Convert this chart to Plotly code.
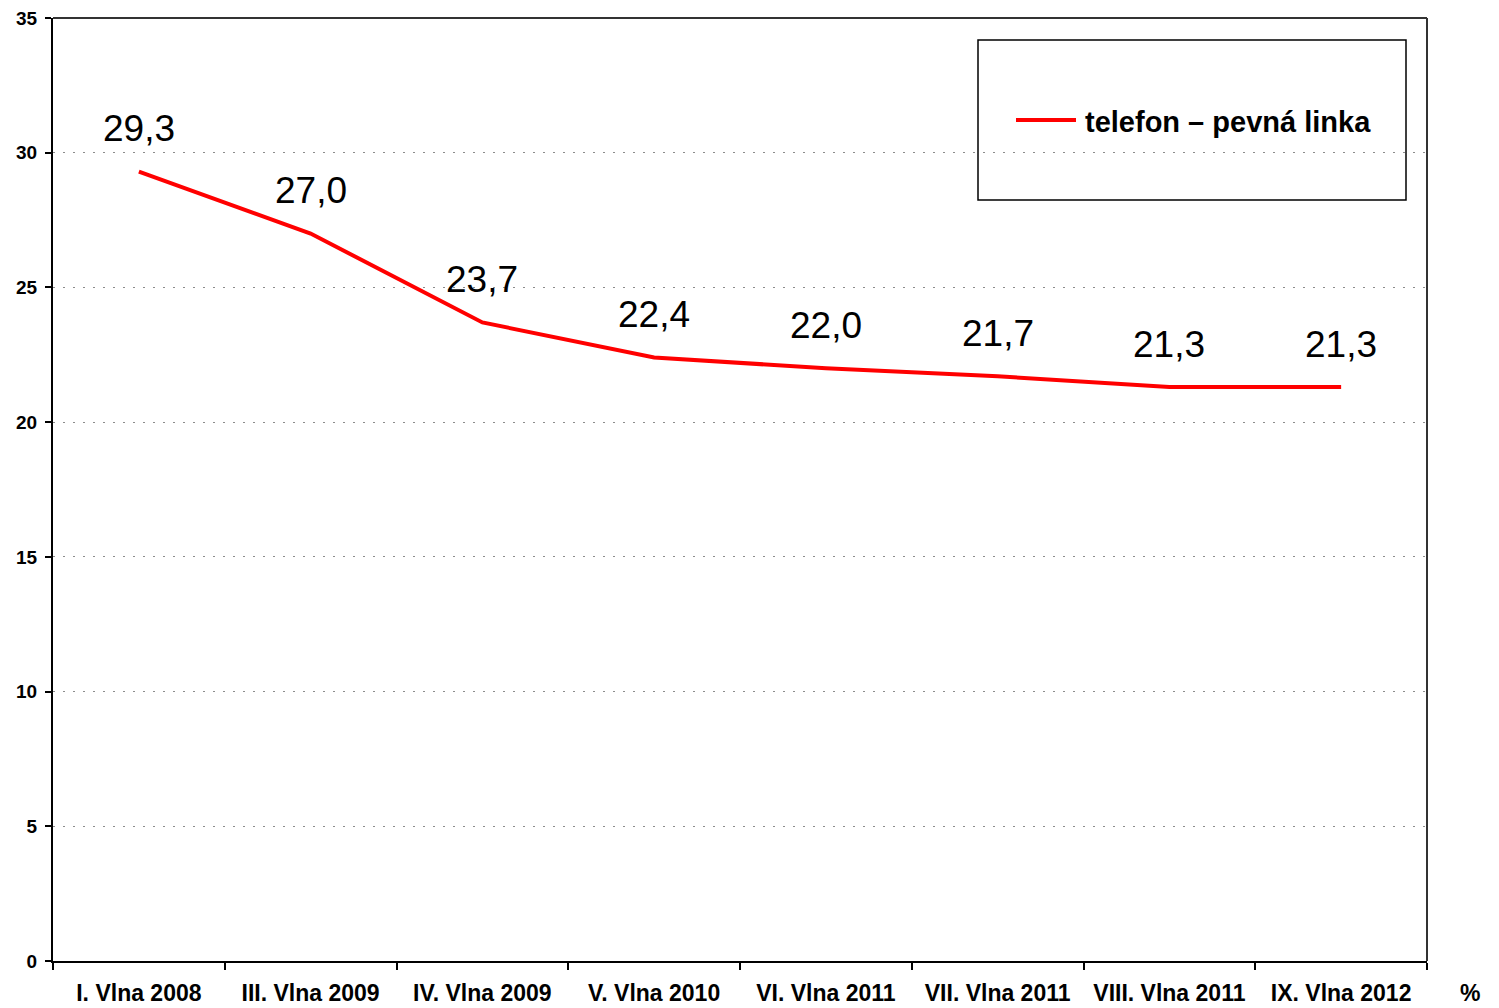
import plotly.graph_objects as go

# Survey waves and share of households with a fixed-line telephone (%)
waves = ["I. Vlna 2008", "III. Vlna 2009", "IV. Vlna 2009", "V. Vlna 2010",
         "VI. Vlna 2011", "VII. Vlna 2011", "VIII. Vlna 2011", "IX. Vlna 2012"]
landline = [29.3, 27.0, 23.7, 22.4, 22.0, 21.7, 21.3, 21.3]
series_name = "telefon – pevná linka"
y_ticks = [0, 5, 10, 15, 20, 25, 30, 35]

FONT = "Arial, Liberation Sans, sans-serif"
W, H = 1499, 1008
ML, MR, MT, MB = 53, 72, 18, 47
PW, PH = W - ML - MR, H - MT - MB


def px_x(x):
    return (x - ML) / PW


def px_y(y):
    return (H - MB - y) / PH


fig = go.Figure()
fig.add_trace(go.Scatter(
    x=waves, y=landline, mode="lines", name=series_name,
    line=dict(color="#ff0000", width=4),
    showlegend=False,
))

# Value labels above each point, Czech decimal comma
for w, v in zip(waves, landline):
    fig.add_annotation(
        x=w, y=v, text=f"{v:.1f}".replace(".", ","), showarrow=False,
        yshift=43, font=dict(family=FONT, size=37, color="#000000"),
    )

# Unit label at the lower right
fig.add_annotation(
    xref="paper", yref="paper", x=px_x(1470), y=px_y(993),
    xanchor="center", yanchor="middle", text="<b>%</b>", showarrow=False,
    font=dict(family=FONT, size=23, color="#000000"),
)

# Legend frame with its single entry
fig.add_shape(
    type="rect", xref="paper", yref="paper",
    x0=px_x(978), x1=px_x(1406), y0=px_y(200), y1=px_y(40),
    line=dict(color="#000000", width=1.5), fillcolor="rgba(0,0,0,0)",
    layer="above",
)
fig.add_shape(
    type="line", xref="paper", yref="paper",
    x0=px_x(1016), x1=px_x(1076), y0=px_y(120), y1=px_y(120),
    line=dict(color="#ff0000", width=4), layer="above",
)
fig.add_annotation(
    xref="paper", yref="paper", x=px_x(1083), y=px_y(122),
    xanchor="left", yanchor="middle", text=f"<b>{series_name}</b>",
    showarrow=False, font=dict(family=FONT, size=29, color="#000000"),
)

fig.update_layout(
    width=W, height=H,
    margin=dict(l=ML, r=MR, t=MT, b=MB, autoexpand=False),
    paper_bgcolor="#ffffff", plot_bgcolor="#ffffff",
    font=dict(family=FONT, color="#000000"),
    showlegend=False,
    xaxis=dict(
        type="category", range=[-0.5, len(waves) - 0.5], automargin=False,
        tickson="boundaries", ticks="outside", ticklen=7,
        tickwidth=1.5, tickcolor="#000000",
        showline=True, linecolor="#000000", linewidth=2, mirror=False,
        showgrid=False, zeroline=False,
        tickfont=dict(family=FONT, size=23, color="#000000", weight="bold"),
        ticklabelstandoff=10,
    ),
    yaxis=dict(
        range=[0, 35], tickvals=y_ticks, ticks="outside", ticklen=6,
        automargin=False,
        tickwidth=1.5, tickcolor="#000000",
        showline=True, linecolor="#000000", linewidth=2,
        showgrid=True, gridcolor="#8c8c8c", gridwidth=1, griddash="2px,8px",
        zeroline=False,
        tickfont=dict(family=FONT, size=19, color="#000000", weight="bold"),
        ticklabelstandoff=4,
    ),
)

# Dark frame on the top and right edges of the plot area
fig.add_shape(type="line", xref="paper", yref="paper", x0=0, x1=1, y0=1, y1=1,
              line=dict(color="#333333", width=2), layer="above")
fig.add_shape(type="line", xref="paper", yref="paper", x0=1, x1=1, y0=0, y1=1,
              line=dict(color="#333333", width=2), layer="above")

fig.write_html("out.html")
